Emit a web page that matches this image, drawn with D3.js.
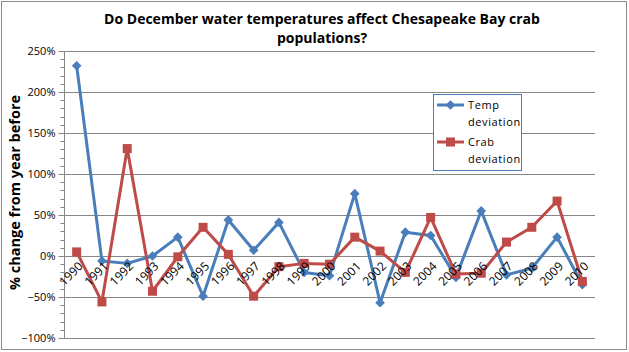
<!DOCTYPE html>
<html>
<head>
<meta charset="utf-8">
<script src="https://cdn.jsdelivr.net/npm/d3@7"></script>
<style>
  body { margin: 0; background: #fff; }
  svg { display: block; font-family: "Open Sans", "Liberation Sans", sans-serif; }
</style>
</head>
<body>
<div id="chart"></div>
<script>
const years = ["1990", "1991", "1992", "1993", "1994", "1995", "1996", "1997", "1998", "1999", "2000",
  "2001", "2002", "2003", "2004", "2005", "2006", "2007", "2008", "2009", "2010"];
const tempDeviation = [2.32, -0.06, -0.09, 0.00, 0.23, -0.49, 0.44, 0.07, 0.41, -0.20, -0.24,
  0.76, -0.57, 0.29, 0.25, -0.26, 0.55, -0.23, -0.15, 0.23, -0.35];
const crabDeviation = [0.05, -0.56, 1.31, -0.43, -0.01, 0.35, 0.02, -0.49, -0.13, -0.09, -0.10,
  0.23, 0.06, -0.20, 0.47, -0.22, -0.21, 0.17, 0.35, 0.67, -0.31];
const yTicks = [-1, -0.5, 0, 0.5, 1, 1.5, 2, 2.5];
const seriesNames = ["Temp deviation", "Crab deviation"];

const W = 629, H = 352;
const margin = { top: 51, right: 34, bottom: 14, left: 64 };
const w = W - margin.left - margin.right;
const h = H - margin.top - margin.bottom;

const svg = d3.select("#chart").append("svg")
  .attr("width", W).attr("height", H);

// outer frame
svg.append("rect")
  .attr("x", 1.5).attr("y", 1.5)
  .attr("width", W - 4).attr("height", H - 4)
  .attr("fill", "#fff").attr("stroke", "#8c8c8c").attr("stroke-width", 1);

// title
const title = svg.append("text")
  .attr("text-anchor", "middle")
  .attr("font-size", 14).attr("font-weight", "bold").attr("fill", "#000");
title.append("tspan").attr("x", 322).attr("y", 24)
  .text("Do December water temperatures affect Chesapeake Bay crab");
title.append("tspan").attr("x", 322).attr("y", 43).text("populations?");

const plot = svg.append("g").attr("transform", `translate(${margin.left},${margin.top})`);

const x = d3.scaleBand().domain(years).range([0, w]);
const y = d3.scaleLinear().domain([-1, 2.5]).range([h, 0]);

// gridlines
plot.append("g").selectAll("line")
  .data(yTicks)
  .join("line")
  .attr("x1", 0).attr("x2", w)
  .attr("y1", d => Math.round(y(d)) + 0.5).attr("y2", d => Math.round(y(d)) + 0.5)
  .attr("stroke", "#868686").attr("stroke-width", 1);

// y axis with minor ticks
const yAxisG = plot.append("g").attr("transform", "translate(0.5,0)");
yAxisG.append("line").attr("x1", 0).attr("x2", 0).attr("y1", 0).attr("y2", h)
  .attr("stroke", "#868686");
yAxisG.selectAll("line.minor")
  .data(d3.range(-1, 2.5001, 0.1))
  .join("line")
  .attr("class", "minor")
  .attr("x1", -4).attr("x2", 0)
  .attr("y1", d => Math.round(y(d)) + 0.5).attr("y2", d => Math.round(y(d)) + 0.5)
  .attr("stroke", "#868686");
yAxisG.selectAll("line.major")
  .data(yTicks)
  .join("line")
  .attr("class", "major")
  .attr("x1", -6).attr("x2", 0)
  .attr("y1", d => Math.round(y(d)) + 0.5).attr("y2", d => Math.round(y(d)) + 0.5)
  .attr("stroke", "#868686");
yAxisG.selectAll("text")
  .data(yTicks)
  .join("text")
  .attr("x", -9).attr("y", d => y(d)).attr("dy", "0.35em")
  .attr("text-anchor", "end").attr("font-size", 11).attr("fill", "#000")
  .text(d => d3.format(".0%")(d));

// y axis title
svg.append("text")
  .attr("transform", `translate(20,${margin.top + h / 2 - 2}) rotate(-90)`)
  .attr("text-anchor", "middle")
  .attr("font-size", 14.5).attr("font-weight", "bold").attr("fill", "#000")
  .text("% change from year before");

const cx = d => x(d) + x.bandwidth() / 2;
const line = d3.line().x((d, i) => cx(years[i])).y(d => y(d));

const blue = "#4a7ebb";
const red = "#be4b48";

// series lines
plot.append("path").datum(tempDeviation)
  .attr("d", line).attr("fill", "none").attr("stroke", blue)
  .attr("stroke-width", 3).attr("stroke-linejoin", "round");
plot.append("path").datum(crabDeviation)
  .attr("d", line).attr("fill", "none").attr("stroke", red)
  .attr("stroke-width", 3).attr("stroke-linejoin", "round");

// markers
const diamond = d3.symbol().type(d3.symbolDiamond2).size(60);
plot.append("g").selectAll("path")
  .data(tempDeviation)
  .join("path")
  .attr("d", diamond)
  .attr("transform", (d, i) => `translate(${cx(years[i])},${y(d)})`)
  .attr("fill", blue);
plot.append("g").selectAll("rect")
  .data(crabDeviation)
  .join("rect")
  .attr("x", (d, i) => cx(years[i]) - 4.5).attr("y", d => y(d) - 4.5)
  .attr("width", 9).attr("height", 9)
  .attr("fill", red);

// category labels, sitting at the zero line
plot.append("g").selectAll("text")
  .data(years)
  .join("text")
  .attr("transform", d => `translate(${cx(d) + 4},${y(0) + 8}) rotate(-45)`)
  .attr("text-anchor", "end").attr("dy", "0.35em")
  .attr("font-size", 12).attr("fill", "#000")
  .text(d => d);

// legend
const lg = svg.append("g").attr("transform", "translate(433,94)");
lg.append("rect").attr("x", 0.5).attr("y", 0.5).attr("width", 88).attr("height", 76)
  .attr("fill", "#fff").attr("stroke", "#4a7ebb");
[
  { color: blue, marker: "diamond", y: 11 },
  { color: red, marker: "square", y: 48 }
].forEach((s, i) => {
  const g = lg.append("g").attr("transform", `translate(0,${s.y})`);
  g.append("line").attr("x1", 4).attr("x2", 31).attr("y1", 0).attr("y2", 0)
    .attr("stroke", s.color).attr("stroke-width", 3);
  if (s.marker === "diamond") {
    g.append("path").attr("d", diamond).attr("transform", "translate(17.5,0)").attr("fill", s.color);
  } else {
    g.append("rect").attr("x", 13).attr("y", -4.5).attr("width", 9).attr("height", 9).attr("fill", s.color);
  }
  const words = seriesNames[i].split(" ");
  const t = g.append("text").attr("font-size", 11).attr("fill", "#000").attr("letter-spacing", 0.6);
  t.append("tspan").attr("x", 35).attr("y", 4).text(words[0]);
  t.append("tspan").attr("x", 35).attr("y", 21).text(words[1]);
});
</script>
</body>
</html>
